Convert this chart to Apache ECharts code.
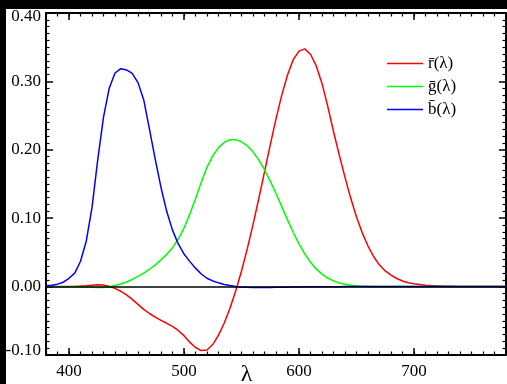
<!DOCTYPE html>
<html>
<head>
<meta charset="utf-8">
<script src="https://cdn.jsdelivr.net/npm/echarts@6/dist/echarts.min.js"></script>
<style>
  html, body { margin: 0; padding: 0; background: #000; }
  #chart { position: absolute; left: 6px; top: 9px; width: 501px; height: 375px; }
</style>
</head>
<body>
<div id="chart"></div>
<script>
const wavelengths = [
  380, 385, 390, 395, 400, 405, 410, 415, 420, 425,
  430, 435, 440, 445, 450, 455, 460, 465, 470, 475,
  480, 485, 490, 495, 500, 505, 510, 515, 520, 525,
  530, 535, 540, 545, 550, 555, 560, 565, 570, 575,
  580, 585, 590, 595, 600, 605, 610, 615, 620, 625,
  630, 635, 640, 645, 650, 655, 660, 665, 670, 675,
  680, 685, 690, 695, 700, 705, 710, 715, 720, 725,
  730, 735, 740, 745, 750, 755, 760, 765, 770, 775,
  780
];

const rBar = [
  0.00003, 0.00005, 0.00010, 0.00017, 0.00030, 0.00047, 0.00084, 0.00139, 0.00211, 0.00266,
  0.00218, 0.00036, -0.00261, -0.00673, -0.01213, -0.01874, -0.02608, -0.03324, -0.03933, -0.04471,
  -0.04939, -0.05364, -0.05814, -0.06414, -0.07173, -0.08120, -0.08901, -0.09356, -0.09264, -0.08473,
  -0.07101, -0.05316, -0.03152, -0.00613, 0.02279, 0.05514, 0.09060, 0.12840, 0.16768, 0.20715,
  0.24526, 0.27989, 0.30928, 0.33184, 0.34429, 0.34756, 0.33971, 0.32265, 0.29708, 0.26348,
  0.22677, 0.19233, 0.15968, 0.12905, 0.10167, 0.07857, 0.05932, 0.04366, 0.03149, 0.02294,
  0.01687, 0.01187, 0.00819, 0.00572, 0.00410, 0.00291, 0.00210, 0.00148, 0.00105, 0.00074,
  0.00052, 0.00036, 0.00025, 0.00017, 0.00012, 0.00008, 0.00006, 0.00004, 0.00003, 0.00001,
  0.00000
];

const gBar = [
  -0.00001, -0.00002, -0.00004, -0.00007, -0.00014, -0.00022, -0.00041, -0.00070, -0.00110, -0.00143,
  -0.00119, -0.00021, 0.00149, 0.00379, 0.00678, 0.01046, 0.01485, 0.01977, 0.02538, 0.03183,
  0.03914, 0.04713, 0.05689, 0.06948, 0.08536, 0.10593, 0.12860, 0.15262, 0.17468, 0.19113,
  0.20317, 0.21083, 0.21466, 0.21487, 0.21178, 0.20588, 0.19702, 0.18522, 0.17087, 0.15429,
  0.13610, 0.11686, 0.09754, 0.07909, 0.06246, 0.04776, 0.03557, 0.02583, 0.01828, 0.01253,
  0.00833, 0.00537, 0.00334, 0.00199, 0.00116, 0.00066, 0.00037, 0.00021, 0.00011, 0.00006,
  0.00003, 0.00001, 0, 0, 0, 0, 0, 0, 0, 0,
  0, 0, 0, 0, 0, 0, 0, 0, 0, 0,
  0
];

const bBar = [
  0.00117, 0.00189, 0.00359, 0.00647, 0.01214, 0.01969, 0.03707, 0.06637, 0.11541, 0.18575,
  0.24769, 0.29012, 0.31228, 0.31860, 0.31670, 0.31166, 0.29821, 0.27295, 0.22991, 0.18592,
  0.14494, 0.10968, 0.08257, 0.06246, 0.04776, 0.03688, 0.02698, 0.01842, 0.01221, 0.00830,
  0.00549, 0.00320, 0.00146, 0.00023, -0.00058, -0.00105, -0.00130, -0.00138, -0.00135, -0.00123,
  -0.00108, -0.00093, -0.00079, -0.00063, -0.00049, -0.00038, -0.00030, -0.00022, -0.00015, -0.00011,
  -0.00008, -0.00005, -0.00003, -0.00002, -0.00001, -0.00001, 0, 0, 0, 0,
  0, 0, 0, 0, 0, 0, 0, 0, 0, 0,
  0, 0, 0, 0, 0, 0, 0, 0, 0, 0,
  0
];

const seriesNames = ['r\u0304(\u03bb)', 'g\u0304(\u03bb)', 'b\u0304(\u03bb)'];
const seriesColors = ['#ff0000', '#00ff00', '#0000ff'];

const serif = "Liberation Serif, 'DejaVu Serif', serif";

const chart = echarts.init(document.getElementById('chart'), null, { renderer: 'canvas' });

const minorX = (i, v) => Number(v) % 10 === 0;
const majorX = (i, v) => Number(v) % 100 === 0;

// same rectangle for both grids: grid 1 only carries the long 100 nm ticks
const gridRect = { left: 40, right: 1, top: 4, bottom: 29, containLabel: false, outerBoundsMode: 'none' };

const option = {
  animation: false,
  backgroundColor: '#fff',
  textStyle: { fontFamily: serif },
  grid: [
    { ...gridRect, show: false },
    { ...gridRect, show: false }
  ],
  legend: {
    orient: 'vertical',
    left: 381,
    top: 43,
    padding: 0,
    icon: 'rect',
    itemWidth: 36,
    itemHeight: 1.5,
    itemGap: 0,
    selectedMode: false,
    data: seriesNames,
    textStyle: { fontFamily: serif, fontSize: 17, lineHeight: 23, color: '#000' }
  },
  xAxis: [
    {
      gridIndex: 0,
      type: 'category',
      position: 'bottom',
      data: wavelengths,
      boundaryGap: false,
      name: '\u03bb',
      nameLocation: 'middle',
      nameGap: 8,
      nameMoveOverlap: false,
      nameTextStyle: { fontFamily: serif, fontSize: 24, lineHeight: 24, color: '#000', padding: [0, 59, 0, 0] },
      axisLine: { onZero: false, lineStyle: { color: '#000', width: 2 } },
      axisTick: { inside: true, length: 3.5, interval: minorX, lineStyle: { color: '#000', width: 1.2 } },
      axisLabel: { interval: majorX, fontFamily: serif, fontSize: 17, lineHeight: 17, color: '#000', margin: 8 },
      splitLine: { show: false }
    },
    {
      gridIndex: 0,
      type: 'category',
      position: 'top',
      data: wavelengths,
      boundaryGap: false,
      axisLine: { onZero: false, lineStyle: { color: '#000', width: 2 } },
      axisTick: { inside: true, length: 3.5, interval: minorX, lineStyle: { color: '#000', width: 1.2 } },
      axisLabel: { show: false },
      splitLine: { show: false }
    },
    {
      gridIndex: 1,
      type: 'category',
      position: 'bottom',
      data: wavelengths,
      boundaryGap: false,
      axisLine: { show: false, onZero: false },
      axisTick: { inside: true, length: 7, interval: majorX, lineStyle: { color: '#000', width: 1.5 } },
      axisLabel: { show: false },
      splitLine: { show: false }
    },
    {
      gridIndex: 1,
      type: 'category',
      position: 'top',
      data: wavelengths,
      boundaryGap: false,
      axisLine: { show: false, onZero: false },
      axisTick: { inside: true, length: 7, interval: majorX, lineStyle: { color: '#000', width: 1.5 } },
      axisLabel: { show: false },
      splitLine: { show: false }
    }
  ],
  yAxis: [
    {
      gridIndex: 0,
      type: 'value',
      position: 'left',
      min: -0.1,
      max: 0.4,
      interval: 0.1,
      axisLine: { show: true, onZero: false, lineStyle: { color: '#000', width: 2 } },
      axisTick: { show: true, inside: true, length: 7, lineStyle: { color: '#000', width: 1.5 } },
      minorTick: { show: true, splitNumber: 10, length: 3.5, lineStyle: { color: '#000', width: 1.2 } },
      axisLabel: {
        fontFamily: serif, fontSize: 17, lineHeight: 8, color: '#000', margin: 5,
        verticalAlignMinLabel: 'bottom',
        verticalAlignMaxLabel: 'top',
        formatter: (v) => v.toFixed(2)
      },
      splitLine: { show: false },
      minorSplitLine: { show: false }
    },
    {
      gridIndex: 0,
      type: 'value',
      position: 'right',
      min: -0.1,
      max: 0.4,
      interval: 0.1,
      axisLine: { show: true, onZero: false, lineStyle: { color: '#000', width: 2 } },
      axisTick: { show: true, inside: true, length: 7, lineStyle: { color: '#000', width: 1.5 } },
      minorTick: { show: true, splitNumber: 10, length: 3.5, lineStyle: { color: '#000', width: 1.2 } },
      axisLabel: { show: false },
      splitLine: { show: false },
      minorSplitLine: { show: false }
    },
    {
      gridIndex: 1,
      type: 'value',
      min: -0.1,
      max: 0.4,
      show: false
    }
  ],
  series: [rBar, gBar, bBar].map((values, i) => ({
    name: seriesNames[i],
    type: 'line',
    xAxisIndex: 0,
    yAxisIndex: 0,
    data: values,
    symbol: 'none',
    color: seriesColors[i],
    lineStyle: { width: 1.5, color: seriesColors[i] },
    markLine: i === 0 ? {
      silent: true,
      symbol: ['none', 'none'],
      label: { show: false },
      lineStyle: { color: '#000', width: 1.5, type: 'solid' },
      data: [{ yAxis: 0 }]
    } : undefined
  }))
};

chart.setOption(option);
</script>
</body>
</html>
